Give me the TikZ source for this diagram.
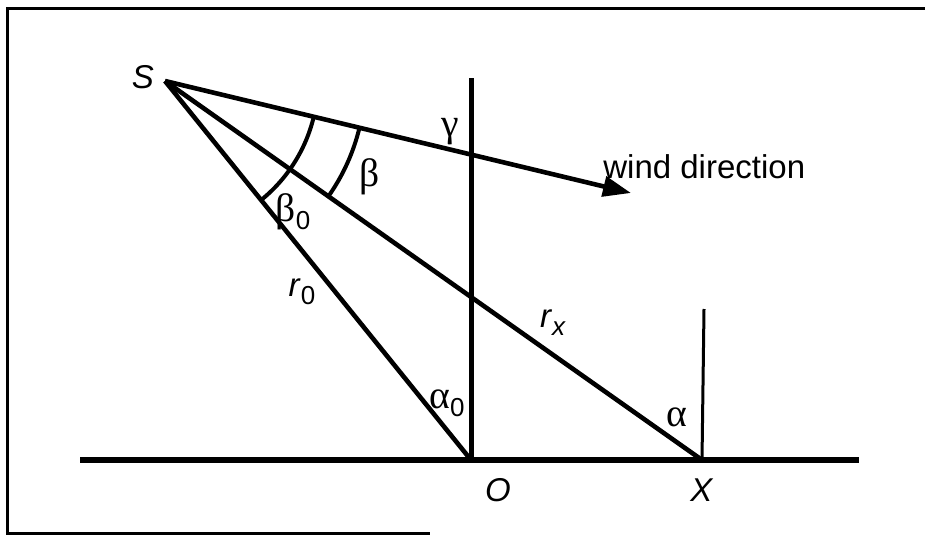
\documentclass[tikz,border=0pt]{standalone}
\usepackage{fontspec}
\setmainfont{Liberation Sans}
\newfontfamily\greekfont[Scale=1.2]{Liberation Serif}
\newcommand\lowsub[1]{\raisebox{-0.45ex}{\fontsize{13}{15}\selectfont#1}}
\usetikzlibrary{arrows.meta,angles}

\begin{document}
\begin{tikzpicture}[x=0.5pt,y=0.5pt,>={Triangle[length=14pt,width=10pt]},
    ground/.style={line width=3pt},
    post/.style={line width=2.5pt},
    mast/.style={line width=1.5pt},
    ray/.style={line width=2.3pt},
    anglearc/.style={line width=2pt},
    lbl/.style={font=\fontsize{16.5}{20}\selectfont,inner sep=0pt}]
    \useasboundingbox (0,0) rectangle (925,-535);
    % The frame, open on the right as in the scan.
    \draw[line width=1.5pt] (925,-9) -- (7,-9) -- (7,-533) -- (430,-533);

    % The source, the receptors and the ends of the lines.
    \coordinate (S) at (165,-81);
    \coordinate (O) at (471,-460);
    \coordinate (X) at (702,-460);
    \coordinate (Otop) at (471,-78);
    \coordinate (Xtop) at (704,-309);
    \coordinate (W) at (631,-193);
    \coordinate (Gl) at (80,-460);
    \coordinate (Gr) at (859,-460);

    % Ground, the post at O and the mast at X.
    \draw[ground] (Gl) -- (Gr);
    \draw[post] (O) -- (Otop);
    \draw[mast] (X) -- (Xtop);

    % The rays out of S.
    \draw[ray] (S) -- (O);
    \draw[ray] (S) -- (X);
    \draw[ray,->] (S) -- (W);

    % The two angles at S.
    \pic[draw,anglearc,angle radius=76.5pt] {angle=O--S--W};
    \pic[draw,anglearc,angle radius=100pt] {angle=X--S--W};

    % Labels.
    \node[lbl] (Slbl) at (143,-77) {\textit{S}};
    \node[lbl] (gamma) at (450,-132) {\greekfont γ};
    \node[lbl] (beta) at (370,-177) {\greekfont β};
    \node[lbl] (beta0) at (293,-212) {{\greekfont β}\lowsub{0}};
    \node[lbl] (r0) at (302,-292) {\textit{r}\lowsub{0}};
    \node[lbl] (rx) at (553,-323) {\textit{r}\lowsub{\textit{x}}};
    \node[lbl] (alpha0) at (447,-403) {{\greekfont α}\lowsub{0}};
    \node[lbl] (alpha) at (677,-417) {\greekfont α};
    \node[lbl] (Olbl) at (498,-490) {\textit{O}};
    \node[lbl] (Xlbl) at (702,-490) {\textit{X}};
    \node[lbl,anchor=west] (windlbl) at (603,-167) {wind direction};
\end{tikzpicture}
\end{document}
